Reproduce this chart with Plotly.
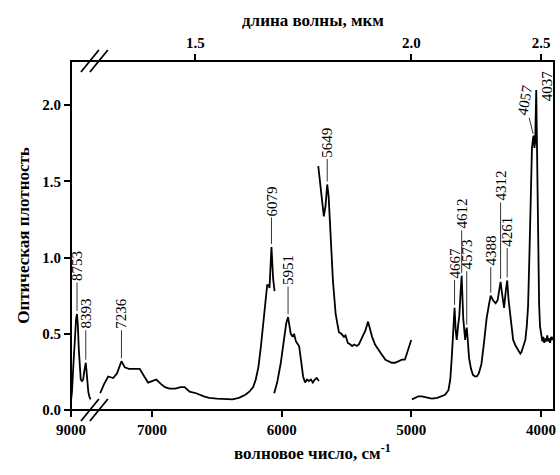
import plotly.graph_objects as go

# ---------------- data (wavenumber, cm-1 ; optical density) ----------------
# segment on the compressed left part of the axis
wn_a = [9000, 8960, 8900, 8840, 8790, 8753, 8720, 8680, 8640, 8600, 8550, 8500,
        8450, 8420, 8393, 8370, 8330, 8290, 8250, 8200]
od_a = [0.06, 0.12, 0.30, 0.50, 0.60, 0.63, 0.56, 0.40, 0.25, 0.20, 0.19, 0.20,
        0.26, 0.30, 0.31, 0.27, 0.18, 0.12, 0.09, 0.07]

wn_b = [7400, 7370, 7338, 7300, 7270, 7236, 7210, 7180, 7140, 7095, 7060, 7030,
        7000, 6967, 6930, 6900, 6866, 6820, 6780, 6749, 6710, 6660, 6600, 6560,
        6500, 6430, 6380, 6330, 6280, 6250, 6220, 6200, 6180, 6160, 6140, 6125,
        6112, 6100, 6094, 6079, 6066, 6055]
od_b = [0.11, 0.17, 0.22, 0.21, 0.24, 0.32, 0.28, 0.27, 0.27, 0.27, 0.22, 0.18,
        0.19, 0.20, 0.17, 0.15, 0.14, 0.14, 0.15, 0.15, 0.12, 0.11, 0.09, 0.08,
        0.075, 0.07, 0.07, 0.08, 0.10, 0.12, 0.15, 0.20, 0.28, 0.42, 0.58, 0.72,
        0.82, 0.82, 0.80, 1.07, 0.86, 0.78]

wn_c = [6058, 6035, 6007, 5985, 5965, 5951, 5940, 5930, 5915, 5905, 5890, 5875,
        5866, 5850, 5835, 5820, 5805, 5790, 5775, 5760, 5745, 5730, 5713]
od_c = [0.11, 0.18, 0.31, 0.45, 0.57, 0.61, 0.56, 0.50, 0.48, 0.50, 0.45, 0.43,
        0.42, 0.32, 0.22, 0.18, 0.20, 0.19, 0.20, 0.18, 0.20, 0.21, 0.19]

wn_d = [5718, 5690, 5675, 5662, 5649, 5638, 5623, 5605, 5584, 5570, 5559, 5540,
        5520, 5508, 5490, 5470, 5457, 5440, 5420, 5405, 5380, 5355, 5334, 5315,
        5303, 5280, 5252, 5225, 5200, 5175, 5150, 5125, 5100, 5073, 5050, 5035,
        5015, 5001]
od_d = [1.60, 1.36, 1.27, 1.34, 1.48, 1.40, 1.13, 0.85, 0.63, 0.56, 0.51, 0.50,
        0.48, 0.49, 0.44, 0.43, 0.42, 0.43, 0.42, 0.43, 0.47, 0.52, 0.58, 0.52,
        0.48, 0.43, 0.39, 0.36, 0.33, 0.32, 0.31, 0.31, 0.32, 0.33, 0.33, 0.37,
        0.41, 0.46]

wn_e = [4996, 4970, 4945, 4920, 4893, 4860, 4842, 4800, 4766, 4740, 4714, 4700,
        4688, 4678, 4667, 4658, 4650, 4640, 4630, 4620, 4612, 4600, 4592, 4585,
        4578, 4573, 4565, 4555, 4540, 4525, 4510, 4495, 4480, 4460, 4440, 4420,
        4400, 4388, 4370, 4350, 4335, 4320, 4312, 4300, 4285, 4272, 4261, 4250,
        4233, 4215, 4195, 4177, 4160, 4151, 4135, 4121, 4110, 4100, 4090, 4080,
        4070, 4062, 4057, 4051, 4045, 4037, 4030, 4022, 4015, 4008, 3998, 3990,
        3983, 3975, 3968, 3960, 3952, 3945, 3937, 3930, 3922, 3915, 3905]
od_e = [0.07, 0.08, 0.09, 0.09, 0.085, 0.08, 0.075, 0.08, 0.09, 0.10, 0.13, 0.20,
        0.35, 0.55, 0.67, 0.52, 0.46, 0.55, 0.62, 0.78, 0.88, 0.60, 0.48, 0.46,
        0.52, 0.54, 0.46, 0.34, 0.27, 0.23, 0.22, 0.22, 0.24, 0.30, 0.44, 0.60,
        0.70, 0.75, 0.72, 0.70, 0.72, 0.80, 0.84, 0.76, 0.67, 0.78, 0.85, 0.72,
        0.57, 0.46, 0.42, 0.39, 0.37, 0.38, 0.42, 0.46, 0.55, 0.68, 1.00, 1.40,
        1.72, 1.78, 1.80, 1.72, 1.76, 2.10, 1.50, 1.00, 0.70, 0.55, 0.48, 0.45,
        0.48, 0.44, 0.47, 0.45, 0.49, 0.45, 0.47, 0.44, 0.48, 0.46, 0.48]

# peak labels
peak_wn = [8753, 8393, 7236, 6079, 5951, 5649, 4667, 4612, 4573, 4388, 4312, 4261, 4057, 4037]
peak_series = ["a", "a", "b", "b", "c", "d", "e", "e", "e", "e", "e", "e", "e", "e"]
peak_text = [str(w) for w in peak_wn]

# axis tick labels
bottom_ticks_left = [9000]
bottom_ticks_right = [7000, 6000, 5000, 4000]
top_wavelengths = [1.5, 2.0, 2.5]
y_ticks = [0.0, 0.5, 1.0, 1.5, 2.0]

series = {"a": (wn_a, od_a), "b": (wn_b, od_b), "c": (wn_c, od_c),
          "d": (wn_d, od_d), "e": (wn_e, od_e)}

# ---------------- geometry / style ----------------
W, H = 560, 475
ML, MR, MT, MB = 71, 4, 61, 65
PW, PH = W - ML - MR, H - MT - MB
split_px = 22                       # width of the compressed left part
d = split_px / PW
FONT = "Liberation Serif"
LW = 1.8

fig = go.Figure()
fig.add_trace(go.Scatter(x=wn_a, y=od_a, mode="lines", xaxis="x", yaxis="y",
                         line=dict(color="black", width=LW)))
for key in ["b", "c", "d", "e"]:
    xs, ys = series[key]
    fig.add_trace(go.Scatter(x=xs, y=ys, mode="lines", xaxis="x2", yaxis="y",
                             line=dict(color="black", width=LW)))
# carrier for the top (wavelength) axis
fig.add_trace(go.Scatter(x=[], y=[], xaxis="x3", yaxis="y", mode="lines",
                         hoverinfo="skip"))

tickfont = dict(family=FONT, size=15, color="black", weight="bold")
common_x = dict(showgrid=False, zeroline=False, showline=False, ticks="outside",
                ticklen=6, tickwidth=2, tickcolor="black", tickfont=tickfont)

fig.update_layout(
    width=W, height=H, margin=dict(l=ML, r=MR, t=MT, b=MB),
    paper_bgcolor="white", plot_bgcolor="white", showlegend=False,
    xaxis=dict(domain=[0, d], range=[9000, 8100], tickvals=bottom_ticks_left,
               ticktext=[str(v) for v in bottom_ticks_left], anchor="y", **common_x),
    xaxis2=dict(domain=[d, 1], range=[7456, 3900], tickvals=bottom_ticks_right,
                ticktext=[str(v) for v in bottom_ticks_right], anchor="y", **common_x),
    xaxis3=dict(domain=[d, 1], range=[7456, 3900], overlaying="x2", side="top",
                tickvals=[1e4 / l for l in top_wavelengths],
                ticktext=[f"{l:.1f}" for l in top_wavelengths], anchor="y", **common_x),
    yaxis=dict(domain=[0, 1], range=[0, 2.29], tickvals=y_ticks,
               ticktext=[f"{v:.1f}" for v in y_ticks], anchor="x",
               showgrid=False, zeroline=False, showline=False, ticks="outside",
               ticklen=6, tickwidth=2, tickcolor="black", tickfont=tickfont,
               title=dict(text="Оптическая плотность", standoff=8,
                          font=dict(family=FONT, size=17, color="black", weight="bold"))),
)

# frame
shapes = [dict(type="rect", xref="paper", yref="paper", x0=0, x1=1, y0=0, y1=1,
               line=dict(color="black", width=2))]
# axis-break marks
for cx in (19, 28):
    for ypos in (0, 1):
        shapes.append(dict(type="line", xref="paper", yref="paper",
                           x0=(cx - 9) / PW, x1=(cx + 9) / PW,
                           y0=ypos - 11 / PH, y1=ypos + 11 / PH,
                           line=dict(color="black", width=1.8)))
fig.update_layout(shapes=shapes)

# titles
annos = [
    dict(xref="paper", yref="paper", x=0.5, y=-(42 / PH), yanchor="middle",
         text="волновое число, см<sup>-1</sup>", showarrow=False,
         font=dict(family=FONT, size=17, color="black", weight="bold")),
    dict(xref="paper", yref="paper", x=0.5, y=1 + 41 / PH, yanchor="middle",
         text="длина волны, мкм", showarrow=False,
         font=dict(family=FONT, size=17, color="black", weight="bold")),
]

# peak labels (offsets are styling: pixel offset of the label from its peak)
label_ay = {8753: -48, 8393: -49, 7236: -48, 6079: -46, 5951: -47, 5649: -42,
            4667: -45, 4612: -62, 4573: -73, 4388: -45, 4312: -96, 4261: -49}
lfont = dict(family=FONT, size=15, color="black")
for w, s, t in zip(peak_wn, peak_series, peak_text):
    xs, ys = series[s]
    yv = ys[xs.index(w)]
    xref = "x" if s == "a" else "x2"
    if w == 4057:
        annos.append(dict(x=w, y=yv, xref=xref, yref="y", text=t, textangle=-80,
                          showarrow=True, arrowhead=0, arrowwidth=0.8, arrowcolor="black",
                          ax=-9, ay=-36, standoff=2, font=lfont))
    elif w == 4037:
        annos.append(dict(x=w, y=yv, xref=xref, yref="y", text=t, textangle=-90,
                          showarrow=False, xshift=11, yshift=4, font=lfont))
    else:
        annos.append(dict(x=w, y=yv, xref=xref, yref="y", text=t, textangle=-90,
                          showarrow=True, arrowhead=0, arrowwidth=0.8, arrowcolor="black",
                          ax=0, ay=label_ay[w], standoff=3, font=lfont))
fig.update_layout(annotations=annos)

fig.write_html("out.html")
